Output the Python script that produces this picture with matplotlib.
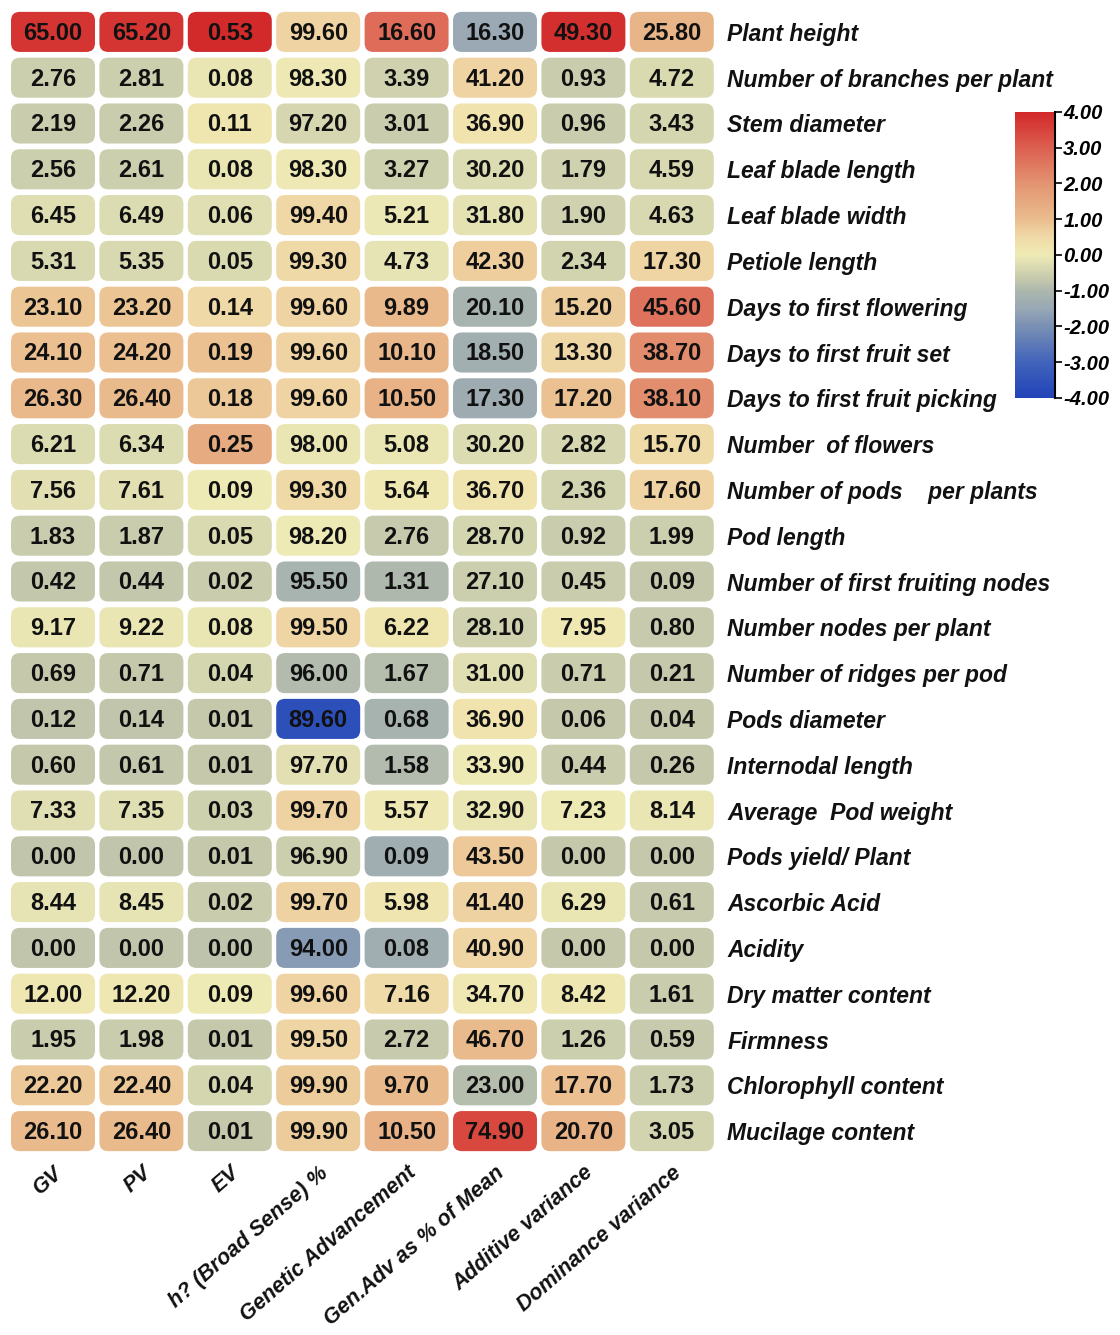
import numpy as np
import matplotlib
matplotlib.use("Agg")
import matplotlib.pyplot as plt
from matplotlib.patches import FancyBboxPatch
from matplotlib.colors import LinearSegmentedColormap, Normalize

plt.rcParams['font.family'] = ['Liberation Sans', 'DejaVu Sans']

# ---------------------------- datos ----------------------------
traits = ["Plant height", "Number of branches per plant", "Stem diameter",
          "Leaf blade length", "Leaf blade width", "Petiole length",
          "Days to first flowering", "Days to first fruit set",
          "Days to first fruit picking", "Number  of flowers",
          "Number of pods    per plants", "Pod length",
          "Number of first fruiting nodes", "Number nodes per plant",
          "Number of ridges per pod", "Pods diameter", "Internodal length",
          "Average  Pod weight", "Pods yield/ Plant", "Ascorbic Acid",
          "Acidity", "Dry matter content", "Firmness", "Chlorophyll content",
          "Mucilage content"]
params = ["GV", "PV", "EV", "h? (Broad Sense) %", "Genetic Advancement",
          "Gen.Adv as % of Mean", "Additive variance", "Dominance variance"]

GV = [65.00, 2.76, 2.19, 2.56, 6.45, 5.31, 23.10, 24.10, 26.30, 6.21, 7.56, 1.83,
      0.42, 9.17, 0.69, 0.12, 0.60, 7.33, 0.00, 8.44, 0.00, 12.00, 1.95, 22.20, 26.10]
PV = [65.20, 2.81, 2.26, 2.61, 6.49, 5.35, 23.20, 24.20, 26.40, 6.34, 7.61, 1.87,
      0.44, 9.22, 0.71, 0.14, 0.61, 7.35, 0.00, 8.45, 0.00, 12.20, 1.98, 22.40, 26.40]
EV = [0.53, 0.08, 0.11, 0.08, 0.06, 0.05, 0.14, 0.19, 0.18, 0.25, 0.09, 0.05,
      0.02, 0.08, 0.04, 0.01, 0.01, 0.03, 0.01, 0.02, 0.00, 0.09, 0.01, 0.04, 0.01]
H2 = [99.60, 98.30, 97.20, 98.30, 99.40, 99.30, 99.60, 99.60, 99.60, 98.00, 99.30, 98.20,
      95.50, 99.50, 96.00, 89.60, 97.70, 99.70, 96.90, 99.70, 94.00, 99.60, 99.50, 99.90, 99.90]
GA = [16.60, 3.39, 3.01, 3.27, 5.21, 4.73, 9.89, 10.10, 10.50, 5.08, 5.64, 2.76,
      1.31, 6.22, 1.67, 0.68, 1.58, 5.57, 0.09, 5.98, 0.08, 7.16, 2.72, 9.70, 10.50]
GAM = [16.30, 41.20, 36.90, 30.20, 31.80, 42.30, 20.10, 18.50, 17.30, 30.20, 36.70, 28.70,
       27.10, 28.10, 31.00, 36.90, 33.90, 32.90, 43.50, 41.40, 40.90, 34.70, 46.70, 23.00, 74.90]
AV = [49.30, 0.93, 0.96, 1.79, 1.90, 2.34, 15.20, 13.30, 17.20, 2.82, 2.36, 0.92,
      0.45, 7.95, 0.71, 0.06, 0.44, 7.23, 0.00, 6.29, 0.00, 8.42, 1.26, 17.70, 20.70]
DV = [25.80, 4.72, 3.43, 4.59, 4.63, 17.30, 45.60, 38.70, 38.10, 15.70, 17.60, 1.99,
      0.09, 0.80, 0.21, 0.04, 0.26, 8.14, 0.00, 0.61, 0.00, 1.61, 0.59, 1.73, 3.05]

data = np.array([GV, PV, EV, H2, GA, GAM, AV, DV]).T
# color por columna estandarizada (z-score)
z = (data - data.mean(axis=0)) / data.std(axis=0, ddof=1)

cmap = LinearSegmentedColormap.from_list("hm", [
    (0.000, "#2143b8"), (0.125, "#4264bb"), (0.250, "#7a90b4"),
    (0.3125, "#98a8b4"), (0.375, "#adb7ad"), (0.4125, "#c3c7ab"),
    (0.4625, "#dcdcb2"), (0.500, "#eeeab5"), (0.5375, "#f0e2ac"),
    (0.575, "#efd4a3"), (0.625, "#eabd8e"), (0.6875, "#e6a97f"),
    (0.750, "#e39472"), (0.875, "#dc6050"), (1.000, "#d2282a")])
norm = Normalize(-4, 4)

nr, nc = data.shape
fig = plt.figure(figsize=(11.2, 13.35), dpi=100)
ax = fig.add_axes([8.8 / 1120, 1 - 1154 / 1335, (716 - 8.8) / 1120, (1154 - 9) / 1335])
ax.set_xlim(-0.5, nc - 0.5)
ax.set_ylim(nr - 0.5, -0.5)

# relación de aspecto para esquinas redondeadas
px_x = ax.transData.transform((1, 0))[0] - ax.transData.transform((0, 0))[0]
px_y = abs(ax.transData.transform((0, 1))[1] - ax.transData.transform((0, 0))[1])
asp = px_x / px_y

w, h = 0.95, 0.875
for i in range(nr):
    for j in range(nc):
        p = FancyBboxPatch((j - w / 2, i - h / 2), w, h,
                           boxstyle="round,pad=0,rounding_size=0.1",
                           mutation_aspect=asp,
                           facecolor=cmap(norm(z[i, j])), edgecolor='none')
        ax.add_patch(p)
        ax.text(j, i + 0.03, f"{data[i, j]:.2f}", ha='center', va='center',
                fontsize=17, fontweight='bold', color='#111111')

for s in ax.spines.values():
    s.set_visible(False)
ax.yaxis.tick_right()
ax.set_yticks(range(nr))
ax.set_yticklabels(traits, fontsize=16.5, fontweight='bold', style='italic', color='#111111')
ax.tick_params(axis='y', length=0, pad=8)
ax.set_xticks(range(nc))
ax.set_xticklabels(params, rotation=41, ha='right', rotation_mode='anchor',
                   fontsize=15.5, fontweight='bold', style='italic', color='#111111')
ax.tick_params(axis='x', length=0, pad=6)

# barra de color
cax = fig.add_axes([1015 / 1120, 1 - 398 / 1335, 40 / 1120, 286 / 1335])
sm = plt.cm.ScalarMappable(norm=norm, cmap=cmap)
cb = fig.colorbar(sm, cax=cax, ticks=np.arange(-4, 5, 1))
cb.outline.set_visible(False)
cax.plot([1, 1], [0, 1], transform=cax.transAxes, color='k', lw=1.5, clip_on=False)
cb.ax.set_yticklabels([f"{t:.2f}" for t in np.arange(-4, 5, 1)],
                      fontsize=14.5, fontweight='bold', style='italic')
cb.ax.tick_params(length=5, width=1.2, pad=1)

fig.savefig("out.png", dpi=100, facecolor='white')
